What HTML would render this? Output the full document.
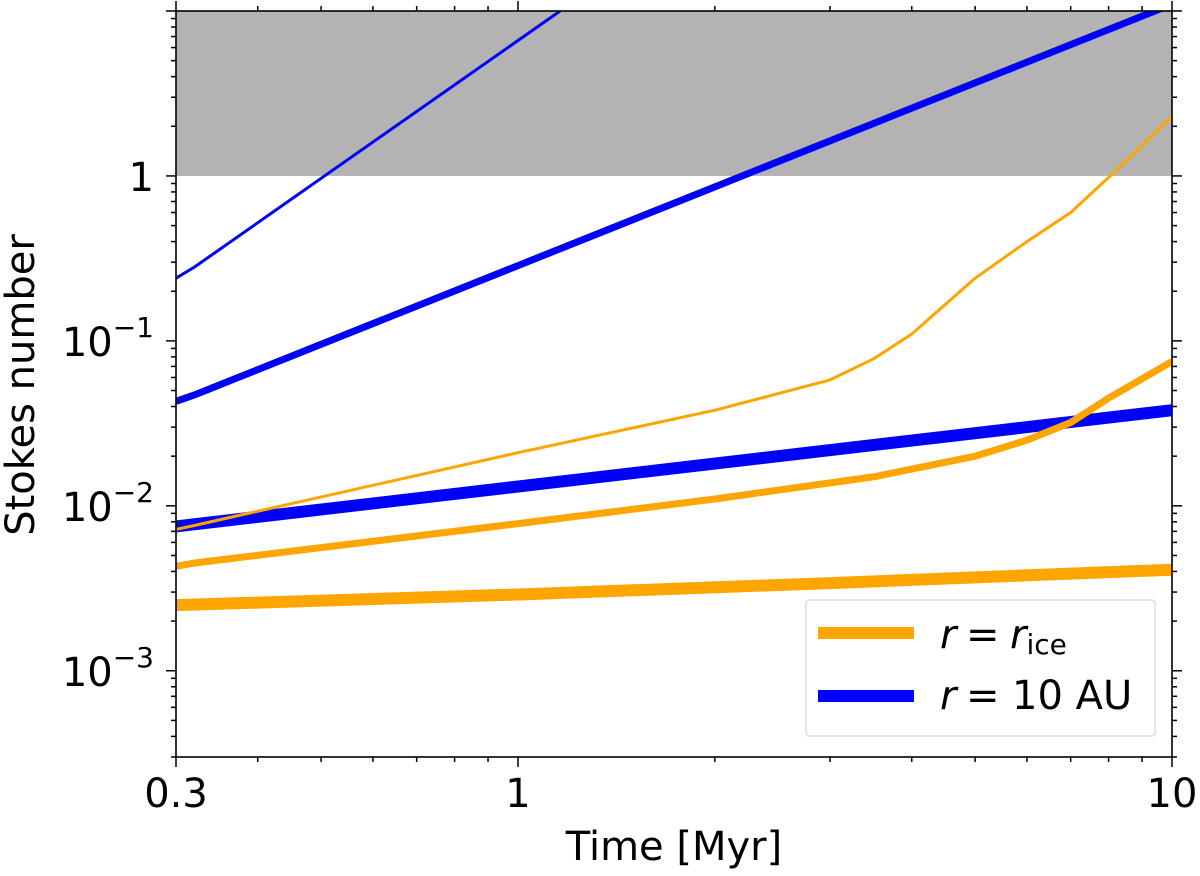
<!DOCTYPE html>
<html><head><meta charset="utf-8"><style>
body{margin:0;background:#fff;}
svg text{font-family:"DejaVu Sans","Liberation Sans",sans-serif;fill:#000;}
</style></head><body>
<svg id="chart" width="1200" height="871" xmlns="http://www.w3.org/2000/svg"></svg>
<script>
const xTicks=[0.3,1,10];
const xTickLabels=["0.3","1","10"];
const yTicks=[1e-3,1e-2,1e-1,1];
const yTickExp=["-3","-2","-1",""];
const blueThinT=[0.3,0.32,1.16];
const blueThinV=[0.24,0.28,10];
const blueMedT=[0.3,0.32,10];
const blueMedV=[0.043,0.047,11];
const blueThickT=[0.3,10];
const blueThickV=[0.0075,0.038];
const orThinT=[0.3,0.32,1,2,3,3.5,4,5,6,7,8,10];
const orThinV=[0.0072,0.0076,0.021,0.038,0.058,0.078,0.11,0.24,0.4,0.6,0.98,2.3];
const orMedT=[0.3,0.32,1,2,3.5,5,6,7,8,10];
const orMedV=[0.0043,0.0045,0.0078,0.011,0.015,0.02,0.025,0.032,0.045,0.075];
const orThickT=[0.3,1,3,10];
const orThickV=[0.0025,0.0029,0.0034,0.0041];

const L=176,R=1172,T=11,B=757;
const xmin=Math.log10(0.3),xmax=1;
const ymin=Math.log10(3e-4),ymax=1;
const X=v=>L+(Math.log10(v)-xmin)/(xmax-xmin)*(R-L);
const Y=v=>B-(Math.log10(v)-ymin)/(ymax-ymin)*(B-T);
const svg=document.getElementById('chart');
const NS='http://www.w3.org/2000/svg';
function mk(tag,attrs,parent){const e=document.createElementNS(NS,tag);for(const k in attrs)e.setAttribute(k,attrs[k]);(parent||svg).appendChild(e);return e;}
const defs=mk('defs',{});const cp=mk('clipPath',{id:'clip'},defs);mk('rect',{x:L,y:T,width:R-L,height:B-T},cp);
const band=mk('rect',{x:L,y:T,width:R-L,height:Y(1)-T,fill:'#b3b3b3'});


const g=mk('g',{'clip-path':'url(#clip)'});
function line(ts,vs,color,w,name){
 const p=mk('polyline',{points:ts.map((t,i)=>X(t)+','+Y(vs[i])).join(' '),fill:'none',stroke:color,'stroke-width':w,'stroke-linejoin':'round'},g);
 
 
}
line(blueThickT,blueThickV,'blue',12,'au10-line-thick');
line(blueMedT,blueMedV,'blue',7,'au10-line-medium');
line(blueThinT,blueThinV,'blue',3,'au10-line-thin');
line(orThickT,orThickV,'orange',12,'ice-line-thick');
line(orMedT,orMedV,'orange',7,'ice-line-medium');
line(orThinT,orThinV,'orange',3,'ice-line-thin');
const frame=mk('rect',{x:L,y:T,width:R-L,height:B-T,fill:'none',stroke:'#000','stroke-width':1.6});


for(let d=-1;d<=1;d++)for(let m=1;m<10;m++){const v=m*Math.pow(10,d);if(v<0.3-1e-9||v>10+1e-9)continue;
 const major=xTicks.some(t=>Math.abs(t-v)<1e-9);const len=major?10:5;
 mk('line',{x1:X(v),x2:X(v),y1:B,y2:B+len,stroke:'#000','stroke-width':1.5});mk('line',{x1:X(v),x2:X(v),y1:T,y2:T-len,stroke:'#000','stroke-width':1.5});}
xTicks.forEach((v,i)=>{const t=mk('text',{x:X(v),y:B+50,'font-size':40,'text-anchor':'middle'});t.textContent=xTickLabels[i];
 
 });
for(let d=-4;d<=1;d++)for(let m=1;m<10;m++){const v=m*Math.pow(10,d);if(v<3e-4-1e-12||v>10+1e-9)continue;const len=m==1?10:5;
 mk('line',{x1:L,x2:L-len,y1:Y(v),y2:Y(v),stroke:'#000','stroke-width':1.5});mk('line',{x1:R,x2:R+len,y1:Y(v),y2:Y(v),stroke:'#000','stroke-width':1.5});}
yTicks.forEach((v,i)=>{const t=mk('text',{x:L-22,y:Y(v)+15,'font-size':40,'text-anchor':'end'});
 if(yTickExp[i]===''){t.textContent='1';}else{t.textContent='10';const s=mk('tspan',{dy:-19,'font-size':28},t);s.textContent='\u2212'+yTickExp[i].slice(1);}
 
 });
const xt=mk('text',{x:(L+R)/2,y:860,'font-size':40,'text-anchor':'middle'});xt.textContent='Time [Myr]';


const yt=mk('text',{x:0,y:0,'font-size':40,'text-anchor':'middle',transform:`translate(34,${(T+B)/2+1}) rotate(-90)`});yt.textContent='Stokes number';


const lg=mk('g',{});


mk('rect',{x:806,y:600,width:349,height:136,fill:'#fff',stroke:'#ddd','stroke-width':1.5,rx:3},lg);
mk('line',{x1:818,x2:914,y1:633,y2:633,stroke:'orange','stroke-width':12},lg);
mk('line',{x1:818,x2:914,y1:696,y2:696,stroke:'blue','stroke-width':12},lg);
const l1=mk('text',{x:940,y:648,'font-size':40},lg);
l1.innerHTML='<tspan font-style="italic">r</tspan><tspan x="966">=</tspan><tspan x="1010" font-style="italic">r</tspan><tspan font-size="28" dy="6">ice</tspan>';


const l2=mk('text',{x:940,y:709,'font-size':40},lg);
l2.innerHTML='<tspan font-style="italic">r</tspan><tspan x="966">=</tspan><tspan x="1012">10 AU</tspan>';


</script>
</body></html>
